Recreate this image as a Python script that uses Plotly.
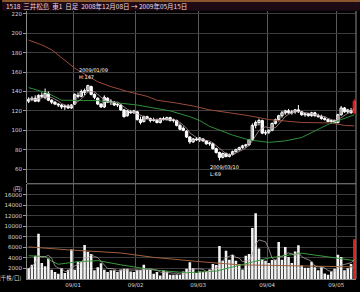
import plotly.graph_objects as go
import pandas as pd

# ---- data ----
opens = [130,132,133,130,136,134,138,131,129,127,126,124,125,123,127,136,135,139,141,145,
         137,133,127,124,133,129,129,126,126,121,115,119,118,119,111,109,114,112,110,110,
         108,112,111,113,110,110,105,102,99,93,88,91,90,91,89,86,86,81,77,72,
         76,73,75,78,80,82,84,85,90,105,108,110,97,98,100,107,111,115,118,120,
         118,119,121,119,116,117,115,118,115,114,112,111,109,110,108,116,123,119,120,118]
highs = [134,135,136,137,139,143,140,132,130,128,127,126,127,127,138,139,142,143,147,146,
         138,134,128,136,134,132,130,128,127,122,121,121,121,120,114,115,115,113,113,112,
         113,114,114,114,112,111,107,104,100,94,92,93,93,92,90,88,87,82,78,77,
         77,76,79,81,83,85,86,91,107,110,112,111,100,101,108,112,116,120,121,122,
         121,122,126,120,118,118,119,119,117,116,114,112,111,111,117,125,124,122,123,132]
lows = [128,130,129,129,133,132,130,127,126,124,122,121,122,122,126,133,134,136,139,136,
        132,126,123,123,128,126,125,124,120,113,114,117,117,110,106,108,111,108,109,107,
        107,110,110,109,108,104,100,99,92,86,87,89,88,88,85,84,80,76,69,71,
        72,72,74,77,79,81,82,84,89,102,105,96,95,96,99,106,109,113,116,117,
        116,117,118,115,114,114,114,114,113,111,110,108,107,107,107,115,118,117,117,117]
closes = [132,133,130,136,135,138,131,129,127,126,124,125,123,126,137,135,140,141,146,137,
          134,127,124,134,129,130,126,127,121,114,120,118,120,111,108,114,112,110,111,108,
          112,111,113,110,111,105,101,100,93,88,91,90,92,89,86,87,81,77,72,76,
          73,75,78,80,82,84,85,90,105,108,110,97,98,100,107,111,115,118,120,118,
          119,121,119,116,117,115,118,115,114,112,111,109,110,108,116,123,119,121,118,130]
volumes = [2050,2700,4420,8590,3060,2430,3920,1750,1310,1000,2050,1120,1750,5670,1750,3300,3300,6480,5170,4740,
           1680,2240,2990,1750,1310,1680,1680,1310,1800,1940,1940,1440,1310,1750,1750,2690,1750,1750,1000,1310,
           680,1680,1440,810,810,870,810,1440,1940,3180,2050,1120,1440,1310,1310,1810,2870,2680,6290,3490,
           5360,3680,4550,3490,2870,1810,4420,4740,9710,12510,5790,3800,3490,3060,3620,3680,7040,3680,6100,4180,
           3060,5230,6420,2560,2130,2130,3300,2240,1680,2240,1050,810,1440,1940,4630,4180,1680,2050,2870,7540]

ma_long_idx = [0,4,7,10,14,18,21,25,30,36,39,45,50,55,61,67,73,79,83,92,96,99]
ma_long_val = [193,188,183,175,164,156,150,145,140,135,131,128,125,121,118,115,111,109,108,107.5,105,104.5]
ma_mid_idx = [0,6,10,15,21,25,33,43,49,52,55,62,67,73,78,83,87,91,95,99]
ma_mid_val = [144,138,131,130.5,130.5,129,126,120,114,110,104,95,90,87.5,89,92.5,99,106,111,116]

vol_ma_long_idx = [0,12,28,38,52,64,73,83,99]
vol_ma_long_val = [6100,5540,4950,4110,3300,2690,2600,2500,2300]
vol_ma_mid_idx = [0,5,7,9,15,21,28,38,48,57,64,73,83,91,99]
vol_ma_mid_val = [4420,4240,3400,2800,3300,3490,2700,1700,1200,1500,2600,4000,4900,4200,3500]

month_pos = [13.5, 32.5, 51.5, 72.5, 93.5]
month_labels = ["09/01", "09/02", "09/03", "09/04", "09/05"]
price_ticks = [60, 80, 100, 120, 140, 160, 180, 200, 220]
vol_ticks = [2000, 4000, 6000, 8000, 10000, 12000, 14000, 16000]

title_text = "1518\u00a0\u00a0三井松島\u00a0\u00a0東1\u00a0\u00a0日足\u00a0\u00a02008年12月08日\u00a0→\u00a02009年05月15日"

# ---- figure ----
n = len(closes)
idx = list(range(n))
ma5 = pd.Series(closes).rolling(5, min_periods=1).mean().tolist()
vma5 = pd.Series(volumes).rolling(5, min_periods=1).mean().tolist()

WHITE = "#ffffff"
RED = "#e02020"

fig = go.Figure()

# wicks
def wick_xy(ids):
    xs, ys = [], []
    for i in ids:
        xs += [i, i, None]
        ys += [lows[i], highs[i], None]
    return xs, ys

wx, wy = wick_xy(range(n - 1))
fig.add_trace(go.Scatter(x=wx, y=wy, mode="lines", line=dict(color=WHITE, width=1),
                         xaxis="x", yaxis="y", hoverinfo="skip"))
wx, wy = wick_xy([n - 1])
fig.add_trace(go.Scatter(x=wx, y=wy, mode="lines", line=dict(color=RED, width=1),
                         xaxis="x", yaxis="y", hoverinfo="skip"))

# bodies
up = [i for i in range(n - 1) if closes[i] >= opens[i]]
dn = [i for i in range(n - 1) if closes[i] < opens[i]]

def body(ids):
    base = [min(opens[i], closes[i]) for i in ids]
    h = [max(abs(closes[i] - opens[i]), 0.6) for i in ids]
    return base, h

b, h = body(up)
fig.add_trace(go.Bar(x=up, y=h, base=b, width=0.72,
                     marker=dict(color="#000000", line=dict(color=WHITE, width=1)),
                     xaxis="x", yaxis="y", hoverinfo="skip"))
b, h = body(dn)
fig.add_trace(go.Bar(x=dn, y=h, base=b, width=0.72,
                     marker=dict(color=WHITE, line=dict(color=WHITE, width=1)),
                     xaxis="x", yaxis="y", hoverinfo="skip"))
b, h = body([n - 1])
fig.add_trace(go.Bar(x=[n - 1], y=h, base=b, width=0.72,
                     marker=dict(color=RED, line=dict(color=RED, width=1)),
                     xaxis="x", yaxis="y", hoverinfo="skip"))

fig.add_trace(go.Scatter(x=ma_long_idx, y=ma_long_val, mode="lines",
                         line=dict(color="#9a4a3c", width=1), xaxis="x", yaxis="y"))
fig.add_trace(go.Scatter(x=ma_mid_idx, y=ma_mid_val, mode="lines",
                         line=dict(color="#2f8f3a", width=1), xaxis="x", yaxis="y"))
fig.add_trace(go.Scatter(x=idx, y=ma5, mode="lines",
                         line=dict(color="#b89aa0", width=0.8), xaxis="x", yaxis="y"))

bar_colors = ["#f2f2f2"] * (n - 1) + [RED]
fig.add_trace(go.Bar(x=idx, y=volumes, width=0.78,
                     marker=dict(color=bar_colors, line=dict(width=0)),
                     xaxis="x2", yaxis="y2"))
fig.add_trace(go.Scatter(x=vol_ma_long_idx, y=vol_ma_long_val, mode="lines",
                         line=dict(color="#a0603c", width=1), xaxis="x2", yaxis="y2"))
fig.add_trace(go.Scatter(x=vol_ma_mid_idx, y=vol_ma_mid_val, mode="lines",
                         line=dict(color="#3a9a3a", width=1), xaxis="x2", yaxis="y2"))
fig.add_trace(go.Scatter(x=idx, y=vma5, mode="lines",
                         line=dict(color="#b0a0a0", width=0.8), xaxis="x2", yaxis="y2"))

# pixel helpers for paper coordinates (plot area: x 25..356, y 11..284)
def px(xp):
    return (xp - 25) / 331.0

def py(yp):
    return (284 - yp) / 273.0

tickfont = dict(family="DejaVu Sans", size=5.5, color="#d8d8d8")

fig.update_layout(
    width=360, height=292,
    margin=dict(l=25, r=4, t=11, b=8),
    paper_bgcolor="#000000", plot_bgcolor="#000000",
    showlegend=False, barmode="overlay",
    xaxis=dict(domain=[0, 1], anchor="y", range=[-0.5, n - 0.5],
               tickvals=month_pos, showticklabels=False, ticks="",
               showgrid=True, gridcolor="#5a5a5a", gridwidth=1,
               zeroline=False, showline=False),
    yaxis=dict(domain=[py(186), 1], range=[45.8, 223],
               tickvals=price_ticks, ticktext=[str(v) for v in price_ticks],
               tickfont=tickfont, ticks="outside", ticklen=3, tickcolor="#999",
               showgrid=True, gridcolor="#3c3c3c", gridwidth=1,
               zeroline=False, showline=True, linecolor="#8a8a8a", linewidth=1),
    xaxis2=dict(domain=[0, 1], anchor="y2", range=[-0.5, n - 0.5],
                tickvals=month_pos, ticktext=month_labels, tickfont=tickfont,
                ticks="", showgrid=True, gridcolor="#5a5a5a", gridwidth=1,
                zeroline=False, showline=True, linecolor="#8a8a8a", linewidth=1),
    yaxis2=dict(domain=[0, py(187)], range=[0, 18100],
                tickvals=vol_ticks, ticktext=[str(v) for v in vol_ticks],
                tickfont=tickfont, ticks="outside", ticklen=3, tickcolor="#999",
                showgrid=True, gridcolor="#3c3c3c", gridwidth=1,
                zeroline=False, showline=True, linecolor="#8a8a8a", linewidth=1),
    shapes=[
        dict(type="rect", xref="paper", yref="paper", x0=px(0), x1=px(360),
             y0=py(10.5), y1=py(0), fillcolor="#1e0a14", line=dict(width=0), layer="below"),
        dict(type="rect", xref="paper", yref="paper", x0=px(0), x1=px(360),
             y0=py(1.5), y1=py(0), fillcolor="#b07034", line=dict(width=0)),
        dict(type="line", xref="paper", yref="paper", x0=0, x1=1,
             y0=py(187), y1=py(187), line=dict(color="#8a8a8a", width=1)),
        dict(type="line", xref="paper", yref="paper", x0=1, x1=1,
             y0=0, y1=1, line=dict(color="#8a8a8a", width=1)),
    ],
    annotations=[
        dict(text=title_text, xref="paper", yref="paper", x=px(2), y=py(5.5),
             xanchor="left", yanchor="middle", showarrow=False,
             font=dict(family="Noto Sans CJK JP", size=6.5, color="#f0d6e2")),
        dict(text="2009/01/09<br>H:147", xref="x", yref="y", x=14.6, y=149.5,
             xanchor="left", yanchor="bottom", showarrow=False, align="left",
             font=dict(family="DejaVu Sans", size=5, color="#ffffff")),
        dict(text="2009/03/10<br>L:69", xref="x", yref="y", x=54.5, y=67.5,
             xanchor="left", yanchor="top", showarrow=False, align="left",
             font=dict(family="DejaVu Sans", size=5, color="#ffffff")),
        dict(text="(円)", xref="paper", yref="paper", x=px(22), y=py(192),
             xanchor="right", yanchor="middle", showarrow=False,
             font=dict(family="Noto Sans CJK JP", size=5.5, color="#d8d8d8")),
        dict(text="(千株/口)", xref="paper", yref="paper", x=px(22), y=py(283),
             xanchor="right", yanchor="middle", showarrow=False,
             font=dict(family="Noto Sans CJK JP", size=5.5, color="#d8d8d8")),
    ],
)

fig.write_html("out.html")
